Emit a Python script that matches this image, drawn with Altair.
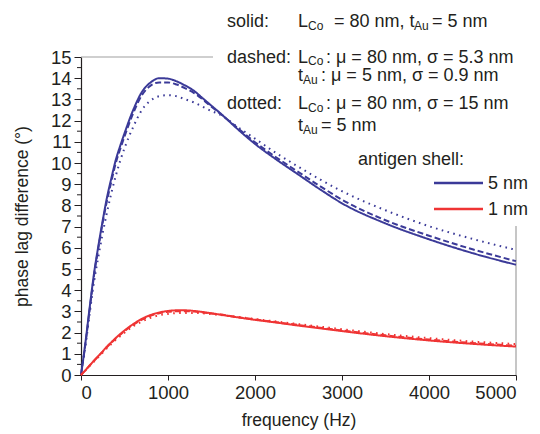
import altair as alt
import pandas as pd

# ---------------- data ----------------
freq = [0, 50, 100, 150, 200, 250, 300, 350, 400, 450, 500, 600, 700, 800, 900,
        1000, 1100, 1200, 1300, 1400, 1500, 1600, 1800, 2000, 2250, 2500, 2750,
        3000, 3500, 4000, 4500, 5000]

blue_solid = [0, 1.5, 3.2, 4.8, 6.1, 7.3, 8.4, 9.3, 10.15, 10.8, 11.4, 12.5, 13.35,
              13.8, 14.0, 13.98, 13.85, 13.65, 13.4, 13.05, 12.7, 12.35, 11.6, 10.9,
              10.15, 9.45, 8.75, 8.1, 7.15, 6.4, 5.75, 5.2]
blue_dashed = [0, 1.45, 3.1, 4.7, 6.0, 7.2, 8.25, 9.15, 10.0, 10.65, 11.25, 12.35, 13.2,
               13.65, 13.8, 13.8, 13.7, 13.52, 13.3, 13.0, 12.65, 12.33, 11.65, 10.98,
               10.25, 9.57, 8.9, 8.27, 7.3, 6.57, 5.93, 5.37]
blue_dotted = [0, 1.35, 2.9, 4.4, 5.6, 6.7, 7.7, 8.6, 9.4, 10.1, 10.7, 11.7, 12.5,
               12.95, 13.15, 13.2, 13.15, 13.0, 12.85, 12.65, 12.45, 12.28, 11.7, 11.15,
               10.45, 9.82, 9.22, 8.67, 7.77, 7.02, 6.42, 5.9]

red_solid = [0, 0.22, 0.45, 0.68, 0.9, 1.12, 1.35, 1.55, 1.75, 1.93, 2.1, 2.4, 2.65,
             2.83, 2.95, 3.02, 3.05, 3.05, 3.02, 2.97, 2.91, 2.85, 2.72, 2.6, 2.47,
             2.33, 2.2, 2.07, 1.83, 1.63, 1.47, 1.34]
red_dashed = [0, 0.22, 0.45, 0.67, 0.89, 1.1, 1.32, 1.52, 1.72, 1.9, 2.07, 2.37, 2.61,
              2.79, 2.91, 2.98, 3.01, 3.01, 2.99, 2.95, 2.9, 2.85, 2.73, 2.62, 2.49,
              2.36, 2.23, 2.1, 1.87, 1.67, 1.51, 1.38]
red_dotted = [0, 0.21, 0.43, 0.64, 0.85, 1.06, 1.27, 1.47, 1.66, 1.83, 2.0, 2.3, 2.52,
              2.7, 2.82, 2.88, 2.92, 2.93, 2.93, 2.91, 2.87, 2.83, 2.74, 2.64, 2.52,
              2.4, 2.28, 2.16, 1.93, 1.74, 1.58, 1.46]

shells = ["5 nm", "1 nm"]
styles = ["solid", "dashed", "dotted"]
x_ticks = [0, 1000, 2000, 3000, 4000, 5000]
y_ticks = list(range(0, 16))
y_minor = [i + 0.5 for i in range(0, 15)]

BLUE = "#3b3a98"
RED = "#ef3434"
INK = "#231f20"
FRAME = "#a0a0a0"
FONT = "Liberation Sans"

series = {
    ("5 nm", "solid"): blue_solid,
    ("5 nm", "dashed"): blue_dashed,
    ("5 nm", "dotted"): blue_dotted,
    ("1 nm", "solid"): red_solid,
    ("1 nm", "dashed"): red_dashed,
    ("1 nm", "dotted"): red_dotted,
}
rows = []
for (shell, style), vals in series.items():
    for f, v in zip(freq, vals):
        rows.append({"f": f, "v": v, "shell": shell, "style": style})
df = pd.DataFrame(rows)

W, H = 435, 318

xscale = alt.Scale(domain=[0, 5000], nice=False, zero=False)
yscale = alt.Scale(domain=[0, 15], nice=False)

y_axis = alt.Axis(values=y_ticks, tickSize=7, labelPadding=3,
                  labelFontSize=18.5, labelFont=FONT, labelColor=INK,
                  labelOverlap=False,
                  domainColor=INK, tickColor=INK, domainWidth=1.2,
                  grid=False, title="phase lag difference (°)",
                  titleFont=FONT, titleFontSize=17.5, titleFontWeight="normal",
                  titleColor=INK, titleX=-59, titleY=H / 2, titleAngle=-90,
                  titleAlign="center", titleBaseline="middle")

lines = alt.Chart(df).mark_line(interpolate="monotone", strokeWidth=2).encode(
    x=alt.X("f:Q", scale=xscale,
            axis=alt.Axis(values=x_ticks, format="d", tickSize=5, labelPadding=3,
                          labelFontSize=18.5, labelFont=FONT, labelColor=INK,
                          labelOverlap=False,
                          domainColor=INK, tickColor=INK, domainWidth=1.2,
                          grid=False, title="frequency (Hz)", titleFont=FONT,
                          titleFontSize=17.5, titleFontWeight="normal", titleColor=INK,
                          titleX=W / 2, titleY=36, titleAlign="center",
                          titleBaseline="top")),
    y=alt.Y("v:Q", scale=yscale, axis=y_axis),
    color=alt.Color("shell:N", scale=alt.Scale(domain=shells, range=[BLUE, RED]),
                    legend=None),
    strokeDash=alt.StrokeDash("style:N",
                              scale=alt.Scale(domain=styles,
                                              range=[[1, 0], [6, 3], [1.6, 4.4]]),
                              legend=None),
)

minor = alt.Chart(pd.DataFrame({"v": y_minor})).mark_rule(color=INK, strokeWidth=1).encode(
    y=alt.Y("v:Q", scale=yscale, axis=y_axis), x=alt.value(-4), x2=alt.value(0))

one = pd.DataFrame({"a": [0]})

frame_top = alt.Chart(one).mark_rule(color=FRAME, strokeWidth=1.2).encode(
    x=alt.value(0), x2=alt.value(132), y=alt.value(0))
frame_right = alt.Chart(one).mark_rule(color=FRAME, strokeWidth=1.2).encode(
    x=alt.value(W), y=alt.value(169), y2=alt.value(H))


def txt(s, x, y, size=18):
    return alt.Chart(one).mark_text(align="left", baseline="alphabetic", font=FONT,
                                    fontSize=size, color=INK).encode(
        x=alt.value(x), y=alt.value(y), text=alt.value(s))


SUB = 12
D = 3
c1, c2 = 146, 217
texts = [
    txt("solid:", c1, -30),
    txt("L", c2, -30), txt("Co", c2 + 10, -30 + D, SUB), txt("= 80 nm, t", c2 + 36, -30),
    txt("Au", c2 + 116, -30 + D, SUB), txt("= 5 nm", c2 + 134, -30),
    txt("dashed:", c1, 6),
    txt("L", c2, 6), txt("Co", c2 + 10, 6 + 2, SUB), txt(": μ = 80 nm, σ = 5.3 nm", c2 + 28, 6),
    txt("t", c2, 24), txt("Au", c2 + 5, 24 + D, SUB), txt(":  μ = 5 nm, σ = 0.9 nm", c2 + 23, 24),
    txt("dotted:", c1, 52),
    txt("L", c2, 52), txt("Co", c2 + 10, 52 + D, SUB), txt(": μ = 80 nm, σ = 15 nm", c2 + 28, 52),
    txt("t", c2, 74), txt("Au", c2 + 5, 74 + D, SUB), txt("= 5 nm", c2 + 23, 74),
    txt("antigen shell:", 277, 108),
    txt("5 nm", 407, 132),
    txt("1 nm", 407, 158),
]

leg_blue = alt.Chart(one).mark_rule(color=BLUE, strokeWidth=2.5).encode(
    x=alt.value(353), x2=alt.value(402), y=alt.value(126))
leg_red = alt.Chart(one).mark_rule(color=RED, strokeWidth=2.5).encode(
    x=alt.value(353), x2=alt.value(402), y=alt.value(152))

chart = alt.layer(frame_top, frame_right, minor, lines, leg_blue, leg_red, *texts).properties(
    width=W, height=H,
    autosize=alt.AutoSizeParams(type="none"),
    padding={"left": 73, "top": 49, "right": 16, "bottom": 60},
).configure_view(stroke=None)

chart.save("out.html", embed_options={"renderer": "svg", "actions": False})
